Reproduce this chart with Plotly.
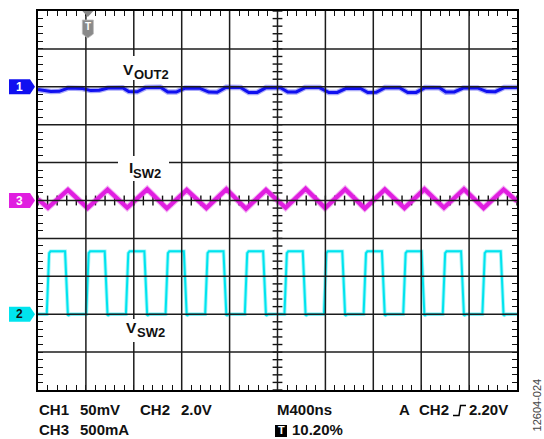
import plotly.graph_objects as go

# ---- horizontal timebase: 400 ns/div, 10 div, trigger at 10.20 % of the screen
X_MIN, X_MAX = -408, 3592
NS_PER_DIV = 400
X_CENTER = X_MIN + 5 * NS_PER_DIV

# ---- CH2: switch-node voltage V_SW2 (2.0 V/div), edge times in ns from trigger
sw_rise_ns = [-325, 5, 336, 667, 998, 1329, 1660, 1990, 2321, 2652, 2982, 3313]
sw_fall_ns = [-170, 161, 492, 822, 1153, 1484, 1815, 2145, 2476, 2807, 3137, 3468]
sw_high_v = 3.32
sw_low_v = 0.0
sw_under_v = -0.08

# ---- CH3: inductor current I_SW2 (500 mA/div), triangle vertices
isw_t_ns = [-408, -325, -158, 6, 173, 337, 504, 668, 834, 998, 1165, 1329,
            1496, 1660, 1827, 1990, 2157, 2321, 2488, 2652, 2819, 2982,
            3149, 3313, 3480, 3592]
isw_ma = [15, -95, 140, -100, 145, -95, 150, -105, 140, -100, 150, -110,
          140, -95, 155, -100, 150, -105, 145, -100, 150, -95,
          150, -100, 145, -10]

# ---- CH1: output ripple V_OUT2 (50 mV/div, AC), mV relative to channel marker
vout_t_ns = [-408, -301, -231, -156, -36, 33, 103, 178, 298, 350, 420, 495, 615,
             676, 746, 821, 941, 1018, 1088, 1163, 1283, 1352, 1422, 1497, 1617,
             1678, 1748, 1823, 1943, 2021, 2091, 2166, 2286, 2346, 2416, 2491,
             2611, 2680, 2750, 2825, 2945, 2998, 3068, 3143, 3263, 3340, 3410,
             3485, 3592]
vout_mv = [-3.7, -6.3, -6.0, -1.7, -2.2, -5.0, -4.6, -1.5, -1.2, -6.3, -6.6, -0.8, -0.5,
           -7.0, -7.0, -1.7, -1.9, -7.0, -7.2, -0.6, -0.8, -7.6, -7.4, -1.0, -1.2,
           -7.0, -6.8, -1.0, -1.0, -7.6, -7.4, -2.0, -2.2, -7.6, -7.2, -1.0,
           -1.2, -7.6, -7.4, -1.0, -1.4, -7.0, -6.8, -1.7, -1.5, -6.3, -6.5,
           -1.0, -0.8]

# channel colours
C1 = "#1010f0"
C2 = "#00e4ee"
C3 = "#e01ee0"
FONT = "Liberation Sans, Arial, sans-serif"

# build the switch-node polyline from its edge list
sw_t, sw_v = [X_MIN], [sw_low_v]
for r, f in zip(sw_rise_ns, sw_fall_ns):
    sw_t += [r - 10, r + 10, r + 22, f - 12, f + 12, f + 30]
    sw_v += [sw_low_v, sw_high_v - 0.1, sw_high_v, sw_high_v, sw_under_v, sw_low_v]
sw_t.append(X_MAX)
sw_v.append(sw_low_v)

fig = go.Figure()


def add_trace(x, y, axis, color, width, halo):
    fig.add_trace(go.Scatter(x=x, y=y, yaxis=axis, mode="lines",
                             line=dict(color=color, width=width + halo),
                             opacity=0.35, hoverinfo="skip", showlegend=False))
    fig.add_trace(go.Scatter(x=x, y=y, yaxis=axis, mode="lines",
                             line=dict(color=color, width=width),
                             hoverinfo="skip", showlegend=False))


add_trace(vout_t_ns, vout_mv, "y2", C1, 3.0, 2.5)
add_trace(sw_t, sw_v, "y3", C2, 2.0, 1.8)
add_trace(isw_t_ns, isw_ma, "y4", C3, 4.2, 2.0)

# crossing ticks on the two centre graticule lines
minor_x = [X_MIN + k * NS_PER_DIV / 5 for k in range(51)]
minor_y = [-5 + k * 0.2 for k in range(51)]
fig.add_trace(go.Scatter(x=minor_x, y=[0] * len(minor_x), mode="markers",
                         marker=dict(symbol="line-ns", size=7,
                                     line=dict(color="#111", width=1.4)),
                         hoverinfo="skip", showlegend=False))
fig.add_trace(go.Scatter(x=[X_CENTER] * len(minor_y), y=minor_y, mode="markers",
                         marker=dict(symbol="line-ew", size=7,
                                     line=dict(color="#111", width=1.4)),
                         hoverinfo="skip", showlegend=False))


def pxr(xp):
    """pixel column -> offset from the plot's left edge"""
    return xp - 38


def pyr(yp):
    """pixel row -> offset above the plot's bottom edge"""
    return 390 - yp


shapes = []
# graticule drawn over the traces
for k in range(1, 10):
    xv = X_MIN + k * NS_PER_DIV
    shapes.append(dict(type="line", xref="x", yref="paper", x0=xv, x1=xv, y0=0, y1=1,
                       line=dict(color="#1c1c1c", width=1.5), layer="above"))
for d in range(-4, 5):
    shapes.append(dict(type="line", xref="paper", yref="y", x0=0, x1=1, y0=d, y1=d,
                       line=dict(color="#1c1c1c", width=1.5), layer="above"))

# white plates behind the waveform labels
for x0, x1, y0, y1 in ((119, 170, 56, 80), (118, 169, 156, 181), (121, 167, 319, 342)):
    shapes.append(dict(type="rect", xref="paper", yref="paper", xanchor=0, yanchor=0,
                       xsizemode="pixel", ysizemode="pixel",
                       x0=pxr(x0), x1=pxr(x1), y0=pyr(y1), y1=pyr(y0),
                       fillcolor="#fff", line=dict(width=0), layer="above"))

# channel ground markers on the left
for axis, color in (("y2", C1), ("y3", C2), ("y4", C3)):
    shapes.append(dict(type="path", xref="paper", yref=axis, xanchor=0, yanchor=0,
                       xsizemode="pixel", ysizemode="pixel",
                       path="M-29,-7.5 L-8,-7.5 L-3,0 L-8,7.5 L-29,7.5 Z",
                       fillcolor=color, line=dict(width=0), layer="above"))

# trigger position marker on top edge
shapes.append(dict(type="path", xref="x", yref="paper", xanchor=0, yanchor=1,
                   xsizemode="pixel", ysizemode="pixel",
                   path="M-4.5,0 L6.5,0 L1,-6 Z",
                   fillcolor="#8a8a8a", line=dict(width=0), layer="above"))
shapes.append(dict(type="path", xref="x", yref="paper", xanchor=0, yanchor=1,
                   xsizemode="pixel", ysizemode="pixel",
                   path="M-4.5,-9 L6.5,-9 L6.5,-23 L1,-27 L-4.5,-23 Z",
                   fillcolor="#8a8a8a", line=dict(color="#bbbbbb", width=0.8),
                   layer="above"))

# trigger-level status: small "T" box and the rising-edge glyph
shapes.append(dict(type="rect", xref="paper", yref="paper", xanchor=0, yanchor=0,
                   xsizemode="pixel", ysizemode="pixel",
                   x0=237, x1=249, y0=-35, y1=-47,
                   fillcolor="#000", line=dict(width=0)))
shapes.append(dict(type="path", xref="paper", yref="paper", xanchor=0, yanchor=0,
                   xsizemode="pixel", ysizemode="pixel",
                   path="M415,-25.5 L421,-25.5 L422.5,-15.5 L428,-15.5",
                   line=dict(color="#000", width=1.5)))

ann = []


def px(xp):
    return (xp - 38) / 479


def py(yp):
    return (390 - yp) / 381


def text(xp, yp, s, size=15, color="#111", xanchor="left"):
    ann.append(dict(x=px(xp), y=py(yp), xref="paper", yref="paper", text=s,
                    showarrow=False, xanchor=xanchor, yanchor="middle", borderpad=0,
                    font=dict(family=FONT, size=size, color=color, weight="bold")))


# waveform labels (main letter + subscript)
text(121.5, 67.7, "V", size=15.5)
text(132.5, 72.4, "OUT2", size=13)
text(127.8, 166.7, "I", size=15.5)
text(131.5, 172.4, "SW2", size=13)
text(124.5, 326.7, "V", size=15.5)
text(135.5, 332.4, "SW2", size=13)

# channel numbers
for axis, label, color in (("y2", "1", "#fff"), ("y3", "2", "#111"), ("y4", "3", "#fff")):
    ann.append(dict(x=px(19), y=0, xref="paper", yref=axis, text=label,
                    showarrow=False, xanchor="center", yanchor="middle",
                    font=dict(family=FONT, size=12, color=color, weight="bold")))

# trigger marker letter
ann.append(dict(x=0, y=py(25), xref="x", yref="paper", text="T", showarrow=False,
                xanchor="center", yanchor="middle", xshift=1,
                font=dict(family=FONT, size=10, color="#fff", weight="bold")))

# status readout
R1, R2 = 410, 430
text(38, R1, "CH1")
text(79, R1, "50mV")
text(139, R1, "CH2")
text(180, R1, "2.0V")
text(276, R1, "M400ns")
text(398, R1, "A")
text(418, R1, "CH2")
text(468, R1, "2.20V")
text(38, R2, "CH3")
text(79, R2, "500mA")
text(281, R2, "T", size=11, color="#fff", xanchor="center")
text(291, R2, "10.20%")

# figure number on the right margin
ann.append(dict(x=px(536.5), y=py(405), xref="paper", yref="paper", text="12604-024",
                showarrow=False, textangle=-90, xanchor="center", yanchor="middle",
                borderpad=0,
                font=dict(family=FONT, size=11, color="#444")))

axis_common = dict(showticklabels=False, showgrid=False, zeroline=False,
                   showline=True, linecolor="#000", linewidth=2, mirror="allticks",
                   ticks="inside", ticklen=5, tickwidth=1.2, tickcolor="#111",
                   layer="above traces", fixedrange=True)

fig.update_layout(
    width=544, height=439,
    margin=dict(l=38, r=27, t=9, b=49),
    paper_bgcolor="#fff", plot_bgcolor="#fff",
    showlegend=False,
    xaxis=dict(range=[X_MIN, X_MAX], tick0=X_MIN, dtick=NS_PER_DIV,
               minor=dict(tick0=X_MIN, dtick=NS_PER_DIV / 5, ticks="inside",
                          ticklen=5, tickwidth=1.2, tickcolor="#111"),
               **axis_common),
    yaxis=dict(range=[-5, 5], tick0=0, dtick=1,
               minor=dict(tick0=0, dtick=0.2, ticks="inside",
                          ticklen=5, tickwidth=1.2, tickcolor="#111"),
               **axis_common),
    yaxis2=dict(range=[-400, 100], overlaying="y", visible=False, fixedrange=True),
    yaxis3=dict(range=[-4, 16], overlaying="y", visible=False, fixedrange=True),
    yaxis4=dict(range=[-2500, 2500], overlaying="y", visible=False, fixedrange=True),
    shapes=shapes,
    annotations=ann,
)

fig.write_html("out.html")
